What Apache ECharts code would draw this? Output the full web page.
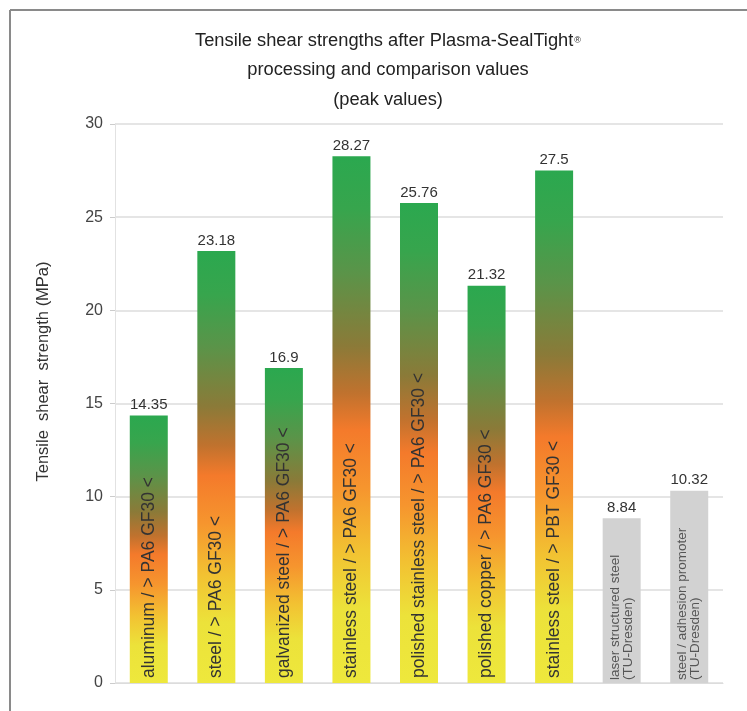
<!DOCTYPE html>
<html>
<head>
<meta charset="utf-8">
<script src="https://cdn.jsdelivr.net/npm/echarts@6/dist/echarts.min.js"></script>
<style>
html, body { margin: 0; padding: 0; background: #fff; }
#chart { width: 747px; height: 711px; }
</style>
</head>
<body>
<div id="chart"></div>
<script>
"use strict";
var textColor = '#333';

var categories = [
	'aluminum / > PA6 GF30 <',
	'steel / > PA6 GF30 <',
	'galvanized steel / > PA6 GF30 <',
	'stainless steel / > PA6 GF30 <',
	'polished stainless steel / > PA6 GF30 <',
	'polished copper / > PA6 GF30 <',
	'stainless steel / > PBT GF30 <',
	'laser structured steel\n(TU-Dresden)',
	'steel / adhesion promoter\n(TU-Dresden)'
];
var strengths = [14.35, 23.18, 16.9, 28.27, 25.76, 21.32, 27.5, 8.84, 10.32];
// last two are comparison values (grey)
var isComparison = [false, false, false, false, false, false, false, true, true];
var yTicks = [0, 5, 10, 15, 20, 25, 30];

/* bar fill */
var plasmaFill = new echarts.graphic.LinearGradient(0, 0, 0, 1, [
	{ offset : 0, color : '#2ba84f' },
	{ offset : 0.1, color : '#37a54d' },
	{ offset : 0.22, color : '#5a9449' },
	{ offset : 0.36, color : '#8b7a38' },
	{ offset : 0.45, color : '#c0722e' },
	{ offset : 0.52, color : '#f47a2b' },
	{ offset : 0.63, color : '#f6952e' },
	{ offset : 0.75, color : '#f2c232' },
	{ offset : 0.86, color : '#ece23a' },
	{ offset : 1, color : '#eee83c' }
]);

function tensileChart() {
	var chart = echarts.init(document.getElementById('chart'));

	var barData = strengths.map(function(v, i) {
		var item = {
			value : v,
			name : categories[i],
			itemStyle : { color : isComparison[i] ? '#d2d2d2' : plasmaFill }
		};
		if (isComparison[i]) {
			item.label = { fontSize : 13.5, lineHeight : 13, color : '#555', distance : 3 };
		}
		return item;
	});

	chart.setOption({
		textStyle : { fontFamily : 'Liberation Sans, Arial, sans-serif' },
		title : {
			text : '{a|Tensile shear strengths after Plasma-SealTight}{s|®}\n{a|processing and comparison values}\n{a|(peak values)}',
			left : 383,
			top : 21,
			textAlign : 'center',
			textStyle : {
				fontWeight : 'normal',
				rich : {
					a : { fontSize : 18.3, fontWeight : 'normal', color : '#222', lineHeight : 29.5 },
					s : { fontSize : 9, fontWeight : 'normal', color : '#222', lineHeight : 22, padding : [0, 0, 0, 1] }
				}
			}
		},
		grid : {
			left : 115,
			right : 24,
			top : 124,
			bottom : 28
		},
		xAxis : {
			type : 'category',
			data : categories,
			axisLabel : { show : false },
			axisTick : { show : false },
			axisLine : { lineStyle : { color : '#dcdcdc' } }
		},
		yAxis : {
			type : 'value',
			min : yTicks[0],
			max : yTicks[yTicks.length - 1],
			interval : 5,
			name : 'Tensile  shear  strength (MPa)',
			nameLocation : 'middle',
			nameGap : 63,
			nameTextStyle : { fontSize : 16.5, color : textColor, padding : [0, 0, 0, 64] },
			axisLine : { show : true, lineStyle : { color : '#e2e2e2' } },
			axisTick : { show : true, length : 5, lineStyle : { color : '#cccccc' } },
			axisLabel : { fontSize : 16, color : '#444', margin : 12 },
			splitLine : { lineStyle : { color : '#dddddd', width : 1.5 } }
		},
		series : [ {
			type : 'bar',
			barWidth : 38,
			data : barData,
			label : {
				show : true,
				position : 'insideBottom',
				rotate : 90,
				align : 'left',
				verticalAlign : 'middle',
				distance : 5,
				fontSize : 17.5,
				color : textColor,
				formatter : function(p) {
					return p.name;
				}
			}
		}, {
			// value labels on top of the bars
			type : 'bar',
			barWidth : 38,
			barGap : '-100%',
			data : strengths,
			itemStyle : { color : 'rgba(0,0,0,0)' },
			label : {
				show : true,
				position : 'top',
				distance : 3,
				fontSize : 15,
				color : textColor
			}
		} ],
		graphic : [ {
			type : 'line',
			shape : { x1 : 10, y1 : 10, x2 : 747, y2 : 10 },
			style : { stroke : '#8a8a8a', lineWidth : 2 }
		}, {
			type : 'line',
			shape : { x1 : 10, y1 : 10, x2 : 10, y2 : 711 },
			style : { stroke : '#8a8a8a', lineWidth : 2 }
		} ]
	});
}

tensileChart();
</script>
</body>
</html>
